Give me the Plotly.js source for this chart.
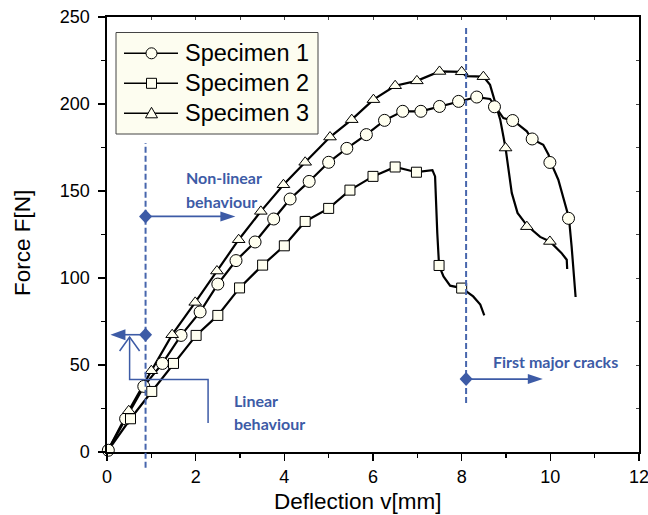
<!DOCTYPE html>
<html>
<head>
<meta charset="utf-8">
<script src="https://cdn.plot.ly/plotly-3.0.1.min.js"></script>
<style>html,body{margin:0;padding:0;background:#fff;}#chart{width:648px;height:515px;}</style>
</head>
<body>
<div id="chart"></div>
<script>
// ---- Data ----
const seriesNames = ['Specimen 1', 'Specimen 2', 'Specimen 3'];

// Specimen 1 (circles)
const s1CurveX = [0, 0.42, 0.83, 1.25, 1.67, 2.10, 2.50, 2.91, 3.34, 3.76, 4.13, 4.56, 5.00, 5.41, 5.85, 6.26, 6.67, 7.08, 7.50, 7.93, 8.34, 8.64, 8.75, 8.94, 9.17, 9.47, 9.58, 9.84, 9.96, 10.01, 10.18, 10.31, 10.42, 10.48, 10.52, 10.57];
const s1CurveY = [0, 19.1, 37.7, 50.9, 67.0, 80.5, 96.5, 110.0, 120.7, 133.9, 145.4, 155.5, 166.5, 174.5, 182.4, 190.6, 195.8, 195.8, 198.6, 201.5, 204.0, 202.9, 198.6, 191.9, 190.4, 184.3, 179.9, 176.6, 170.9, 166.4, 156.5, 145.0, 134.5, 118.2, 102.9, 89.1];
const s1MarkX = [0.03, 0.42, 0.83, 1.25, 1.67, 2.10, 2.50, 2.91, 3.34, 3.76, 4.13, 4.56, 5.00, 5.41, 5.85, 6.26, 6.67, 7.08, 7.50, 7.93, 8.34, 8.74, 9.15, 9.59, 9.99, 10.41];
const s1MarkY = [1.0, 19.1, 37.7, 50.9, 67.0, 80.5, 96.5, 110.0, 120.7, 133.9, 145.4, 155.5, 166.5, 174.5, 182.4, 190.6, 195.8, 195.8, 198.6, 201.5, 204.0, 198.4, 190.5, 179.9, 166.4, 134.3];

// Specimen 2 (squares)
const s2CurveX = [0, 0.53, 1.01, 1.50, 2.01, 2.50, 2.99, 3.51, 4.00, 4.47, 5.00, 5.48, 6.00, 6.50, 6.98, 7.34, 7.40, 7.45, 7.49, 7.59, 7.74, 8.00, 8.26, 8.42, 8.51];
const s2CurveY = [0, 19.1, 34.8, 50.9, 67.0, 78.5, 94.3, 107.4, 118.5, 132.5, 140.0, 150.5, 158.4, 163.8, 160.8, 162.0, 158.4, 125.9, 107.2, 100.9, 95.6, 94.2, 89.4, 84.7, 78.5];
const s2MarkX = [0.53, 1.01, 1.50, 2.01, 2.50, 2.99, 3.51, 4.00, 4.47, 5.00, 5.48, 6.00, 6.50, 6.98, 7.49, 8.00];
const s2MarkY = [19.1, 34.8, 50.9, 67.0, 78.5, 94.3, 107.4, 118.5, 132.5, 140.0, 150.5, 158.4, 163.8, 160.8, 107.2, 94.2];

// Specimen 3 (triangles)
const s3CurveX = [0, 0.49, 1.00, 1.47, 1.99, 2.48, 2.97, 3.47, 3.98, 4.47, 5.03, 5.52, 6.01, 6.50, 6.99, 7.50, 8.00, 8.10, 8.49, 8.64, 8.75, 8.87, 8.99, 9.05, 9.13, 9.26, 9.48, 9.77, 9.99, 10.25, 10.37, 10.38];
const s3CurveY = [0, 23.7, 46.7, 67.4, 86.0, 104.0, 122.0, 138.3, 153.6, 166.5, 181.0, 191.0, 202.5, 210.5, 213.3, 218.7, 218.5, 216.0, 215.7, 211.0, 201.5, 191.0, 174.7, 162.2, 148.9, 137.4, 130.0, 123.6, 121.0, 114.4, 110.5, 105.2];
const s3MarkX = [0.49, 1.00, 1.47, 1.99, 2.48, 2.97, 3.47, 3.98, 4.47, 5.03, 5.52, 6.01, 6.50, 6.99, 7.50, 8.00, 8.49, 8.99, 9.47, 9.99];
const s3MarkY = [23.7, 46.7, 67.4, 86.0, 104.0, 122.0, 138.3, 153.6, 166.5, 181.0, 191.0, 202.5, 210.5, 213.3, 218.7, 218.5, 215.7, 174.7, 129.5, 121.0];

// Annotation positions (data units)
const linearLimitX = 0.87;
const crackLimitX = 8.10;
const nonLinearArrow = {x0: 0.87, x1: 2.895, y: 135.4};
const linearArrow = {x0: 0.87, x1: 0.077, y: 67.4};
const crackArrow = {x0: 8.10, x1: 9.83, y: 41.9};

// ---- Styles / geometry ----
const W = 648, H = 515;
const M = {l: 107, r: 9, t: 17, b: 63};
const PW = W - M.l - M.r, PH = H - M.t - M.b;
const paperX = px => (px - M.l) / PW;
const paperY = pyy => (H - M.b - pyy) / PH;

const BLACK = '#000000';
const FILL = '#fffff0';
const BLUE = '#3d5ba6';
const DASHBLUE = '#4766ad';
const curveW = 2.2;
const symbols = ['circle', 'square', 'triangle-up'];
const msizes = [12, 10, 11];
const curves = [[s1CurveX, s1CurveY], [s2CurveX, s2CurveY], [s3CurveX, s3CurveY]];
const marks = [[s1MarkX, s1MarkY], [s2MarkX, s2MarkY], [s3MarkX, s3MarkY]];

const traces = [];
for (let i = 0; i < 3; i++) {
  traces.push({x: curves[i][0], y: curves[i][1], mode: 'lines', type: 'scatter', name: seriesNames[i],
    line: {color: BLACK, width: curveW}, showlegend: false, hoverinfo: 'skip'});
}
for (let i = 0; i < 3; i++) {
  traces.push({x: marks[i][0], y: marks[i][1], mode: 'markers', type: 'scatter', cliponaxis: false, name: seriesNames[i],
    marker: {symbol: symbols[i], size: msizes[i], color: FILL, line: {color: BLACK, width: 1}},
    showlegend: false, hoverinfo: 'skip'});
}
// overlay axes for inner ticks on top/right
traces.push({x: [], y: [], xaxis: 'x2', yaxis: 'y2', showlegend: false, hoverinfo: 'skip'});

const py = v => v / 250;

function diamond(x, y) {
  return {type: 'path', xref: 'x', yref: 'y', xsizemode: 'pixel', ysizemode: 'pixel',
    xanchor: x, yanchor: y, path: 'M-6.5,0L0,7L6.5,0L0,-7Z', fillcolor: BLUE, line: {width: 0}};
}
function headRight(x, y) {
  return {type: 'path', xref: 'x', yref: 'y', xsizemode: 'pixel', ysizemode: 'pixel',
    xanchor: x, yanchor: y, path: 'M0,0L-15,-5L-15,5Z', fillcolor: BLUE, line: {width: 0}};
}
function headLeft(x, y) {
  return {type: 'path', xref: 'x', yref: 'y', xsizemode: 'pixel', ysizemode: 'pixel',
    xanchor: x, yanchor: y, path: 'M0,0L15,-5.5L15,5.5Z', fillcolor: BLUE, line: {width: 0}};
}
const arrowLine = {color: BLUE, width: 1.6};
const headLenData = 14 / 44.36;

const shapes = [
  {type: 'line', xref: 'x', yref: 'paper', x0: linearLimitX, x1: linearLimitX, y0: py(-9), y1: py(177.6),
    line: {color: DASHBLUE, width: 2, dash: '6px,3px'}},
  {type: 'line', xref: 'x', yref: 'paper', x0: crackLimitX, x1: crackLimitX, y0: py(28.2), y1: py(244.6),
    line: {color: DASHBLUE, width: 2, dash: '6px,3px'}},
  {type: 'line', xref: 'x', yref: 'y', x0: nonLinearArrow.x0, x1: nonLinearArrow.x1 - headLenData, y0: nonLinearArrow.y, y1: nonLinearArrow.y, line: arrowLine},
  headRight(nonLinearArrow.x1, nonLinearArrow.y),
  {type: 'line', xref: 'x', yref: 'y', x0: linearArrow.x0, x1: linearArrow.x1 + headLenData, y0: linearArrow.y, y1: linearArrow.y, line: arrowLine},
  headLeft(linearArrow.x1, linearArrow.y),
  {type: 'line', xref: 'x', yref: 'y', x0: crackArrow.x0, x1: crackArrow.x1 - headLenData, y0: crackArrow.y, y1: crackArrow.y, line: arrowLine},
  headRight(crackArrow.x1, crackArrow.y),
  {type: 'path', xref: 'x', yref: 'y', path: 'M0.51,66.1V41.6H2.28V16.7', line: {color: BLUE, width: 1.5}},
  {type: 'path', xref: 'x', yref: 'y', xsizemode: 'pixel', ysizemode: 'pixel', xanchor: 0.51, yanchor: 66.1,
    path: 'M-10,-14L0,0L10,-14', line: {color: BLUE, width: 1.5}},
  diamond(linearLimitX, nonLinearArrow.y),
  diamond(linearLimitX, linearArrow.y),
  diamond(crackLimitX, crackArrow.y)
];

// ---- Hand-built legend (box, sample lines, sample markers, labels) ----
const legBox = {x0: 116, x1: 318, y0: 32.5, y1: 134};
const legRows = [53.3, 83.3, 113.3];
const legLine = {x0: 124, x1: 178, mx: 151.5, tx: 185};
shapes.push({type: 'rect', xref: 'paper', yref: 'paper', x0: paperX(legBox.x0), x1: paperX(legBox.x1),
  y0: paperY(legBox.y1), y1: paperY(legBox.y0), fillcolor: '#fdfdf0', line: {color: '#444', width: 1}, layer: 'above'});
const legMarkerPaths = [
  null,
  'M-5,-5H5V5H-5Z',
  'M-6,-4.5L6,-4.5L0,6Z'
];
legRows.forEach((ry, i) => {
  shapes.push({type: 'line', xref: 'paper', yref: 'paper', x0: paperX(legLine.x0), x1: paperX(legLine.x1),
    y0: paperY(ry), y1: paperY(ry), line: {color: BLACK, width: 1.4}, layer: 'above'});
  if (i === 0) {
    shapes.push({type: 'circle', xref: 'paper', yref: 'paper', xsizemode: 'pixel', ysizemode: 'pixel',
      xanchor: paperX(legLine.mx), yanchor: paperY(ry), x0: -5.5, x1: 5.5, y0: -5.5, y1: 5.5,
      fillcolor: FILL, line: {color: BLACK, width: 1}, layer: 'above'});
  } else {
    shapes.push({type: 'path', xref: 'paper', yref: 'paper', xsizemode: 'pixel', ysizemode: 'pixel',
      xanchor: paperX(legLine.mx), yanchor: paperY(ry), path: legMarkerPaths[i],
      fillcolor: FILL, line: {color: BLACK, width: 1}, layer: 'above'});
  }
});

const annFont = {family: 'Lato', size: 16, color: BLUE, weight: 700};
const titleFont = {family: 'Liberation Sans, Arial, sans-serif', size: 22.5, color: '#000'};
const legFont = {family: 'Liberation Sans, Arial, sans-serif', size: 23.5, color: '#000'};
const annotations = [
  {text: 'Non-linear', x: 1.74, y: 157.6, xref: 'x', yref: 'y', xanchor: 'left', yanchor: 'middle', showarrow: false, font: annFont},
  {text: 'behaviour', x: 1.74, y: 144.0, xref: 'x', yref: 'y', xanchor: 'left', yanchor: 'middle', showarrow: false, font: annFont},
  {text: 'Linear', x: 2.83, y: 29.5, xref: 'x', yref: 'y', xanchor: 'left', yanchor: 'middle', showarrow: false, font: annFont},
  {text: 'behaviour', x: 2.83, y: 16.3, xref: 'x', yref: 'y', xanchor: 'left', yanchor: 'middle', showarrow: false, font: annFont},
  {text: 'First major cracks', x: 8.66, y: 52.1, xref: 'x', yref: 'y', xanchor: 'left', yanchor: 'middle', showarrow: false, font: annFont},
  {text: 'Deflection v[mm]', x: paperX(358.3), y: paperY(501.5), xref: 'paper', yref: 'paper', xanchor: 'center', yanchor: 'middle', showarrow: false, font: titleFont},
  {text: 'Force F[N]', x: paperX(22), y: paperY(243), xref: 'paper', yref: 'paper', xanchor: 'center', yanchor: 'middle', textangle: -90, showarrow: false, font: titleFont}
];
legRows.forEach((ry, i) => {
  annotations.push({text: seriesNames[i], x: paperX(legLine.tx - 2), y: paperY(ry), xref: 'paper', yref: 'paper',
    xanchor: 'left', yanchor: 'middle', showarrow: false, font: legFont});
});

const tickFont = {family: 'Liberation Sans, Arial, sans-serif', size: 18, color: '#000'};
const axisCommon = {showline: true, linecolor: '#000', linewidth: 1.6, showgrid: false, zeroline: false,
  ticks: 'outside', ticklen: 7, tickwidth: 1.4, tickcolor: '#000', tickfont: tickFont};

const layout = {
  width: W, height: H,
  margin: M,
  paper_bgcolor: '#fff', plot_bgcolor: '#fff',
  showlegend: false,
  xaxis: Object.assign({}, axisCommon, {range: [0, 12], dtick: 2, tick0: 0, ticklabeloverflow: 'allow', ticklabelstandoff: 1,
    minor: {dtick: 1, ticks: 'outside', ticklen: 4, tickwidth: 1.2, tickcolor: '#000'}}),
  yaxis: Object.assign({}, axisCommon, {range: [0, 250], dtick: 50, tick0: 0, ticklabelstandoff: 5,
    minor: {dtick: 25, ticks: 'outside', ticklen: 4, tickwidth: 1.2, tickcolor: '#000'}}),
  xaxis2: {overlaying: 'x', side: 'top', range: [0, 12], showline: true, linecolor: '#000', linewidth: 1.6,
    showgrid: false, zeroline: false, ticks: 'inside', ticklen: 3, tickwidth: 1, dtick: 1, showticklabels: false},
  yaxis2: {overlaying: 'y', side: 'right', range: [0, 250], showline: true, linecolor: '#000', linewidth: 1.6,
    showgrid: false, zeroline: false, ticks: 'inside', ticklen: 3, tickwidth: 1, dtick: 25, showticklabels: false},
  shapes: shapes,
  annotations: annotations
};

Plotly.newPlot('chart', traces, layout, {staticPlot: true, displayModeBar: false});
</script>
</body>
</html>
